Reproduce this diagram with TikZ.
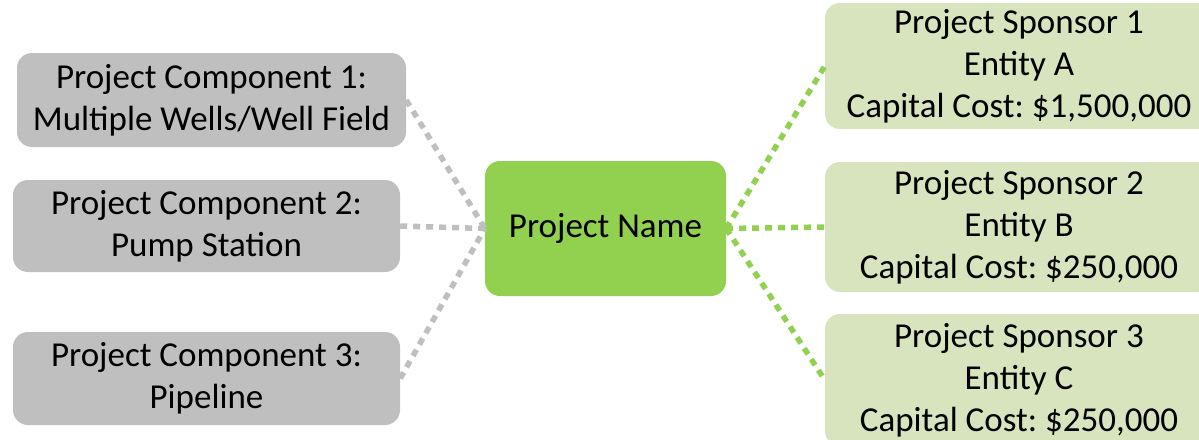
\documentclass[tikz,border=0pt]{standalone}
\usepackage{fontspec}
\setmainfont{Carlito}
\frenchspacing
\definecolor{boxgray}{HTML}{BFBFBF}
\definecolor{lngray}{HTML}{BFBFBF}
\definecolor{centergreen}{HTML}{92D050}
\definecolor{sponsorgreen}{HTML}{D7E4BD}
\begin{document}
\begin{tikzpicture}[x=1pt,y=-1pt,
  base/.style={rounded corners=15pt, align=center, inner sep=0pt, text=black,
    font=\fontsize{35}{42}\selectfont\frenchspacing},
  compbox/.style={base, fill=boxgray},
  centerbox/.style={base, fill=centergreen},
  sponsorbox/.style={base, fill=sponsorgreen, minimum width=388pt},
  grayline/.style={draw=lngray, line width=5.5pt, dash pattern=on 7pt off 6pt},
  greenline/.style={draw=centergreen, line width=5.5pt, dash pattern=on 7pt off 6pt}]
\useasboundingbox (0,0) rectangle (1199,439);
\node[compbox, minimum width=389pt, minimum height=94pt] (c1) at (211.5,100) {Project Component 1:\\Multiple Wells/Well Field};
\node[compbox, minimum width=387pt, minimum height=92pt] (c2) at (206.5,226) {Project Component 2:\\Pump Station};
\node[compbox, minimum width=387pt, minimum height=93pt] (c3) at (206.5,378.5) {Project Component 3:\\Pipeline};
\node[centerbox, minimum width=241pt, minimum height=135pt] (pn) at (605.5,228.5) {Project Name};
\node[sponsorbox, minimum height=126pt] (s1) at (1019,66) {Project Sponsor 1\\Entity A\\Capital Cost: \$1,500,000};
\node[sponsorbox, minimum height=130pt] (s2) at (1019,227) {Project Sponsor 2\\Entity B\\Capital Cost: \$250,000};
\node[sponsorbox, minimum height=132pt] (s3) at (1019,380) {Project Sponsor 3\\Entity C\\Capital Cost: \$250,000};
\draw[grayline] (c1.east) -- (pn.west);
\draw[grayline] (c2.east) -- (pn.west);
\draw[grayline] (c3.east) -- (pn.west);
\draw[greenline] (pn.east) -- (s1.west);
\draw[greenline] (pn.east) -- (s2.west);
\draw[greenline] (pn.east) -- (s3.west);
\end{tikzpicture}
\end{document}
